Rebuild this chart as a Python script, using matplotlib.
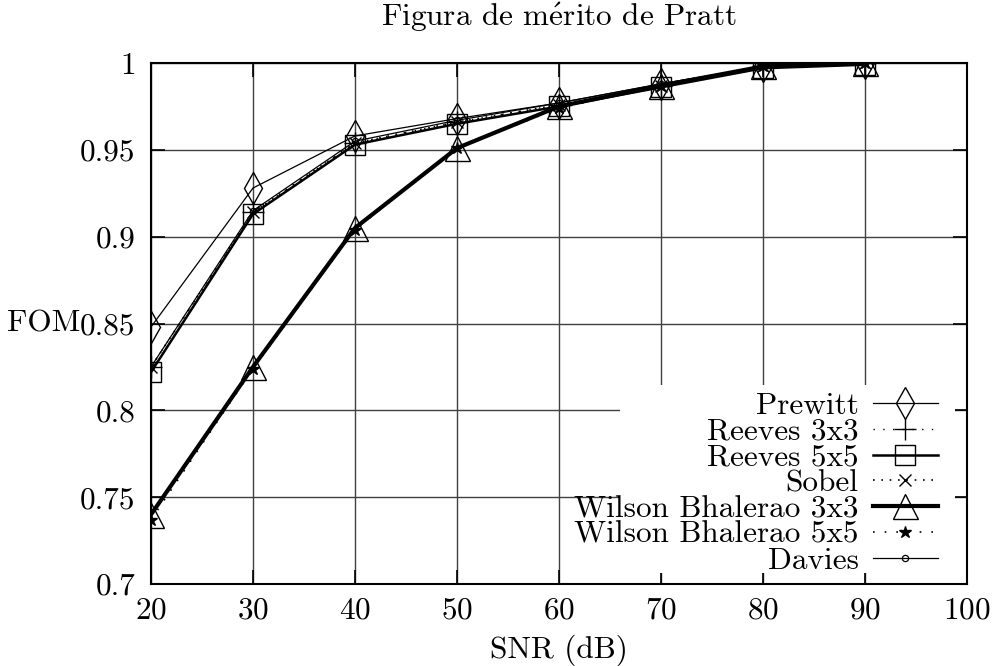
import matplotlib
matplotlib.use("Agg")
import matplotlib.pyplot as plt
from matplotlib.patches import Rectangle

# --- datos ---
snr = [20, 30, 40, 50, 60, 70, 80, 90]
prewitt = [0.848, 0.928, 0.958, 0.968, 0.977, 0.988, 0.998, 1.000]
reeves3 = [0.825, 0.914, 0.954, 0.966, 0.976, 0.987, 0.998, 1.000]
reeves5 = [0.822, 0.913, 0.953, 0.965, 0.975, 0.986, 0.997, 0.999]
sobel = [0.825, 0.914, 0.954, 0.966, 0.976, 0.987, 0.998, 1.000]
wilson3 = [0.740, 0.825, 0.905, 0.951, 0.975, 0.987, 0.998, 1.000]
wilson5 = [0.737, 0.824, 0.904, 0.951, 0.974, 0.987, 0.998, 1.000]
davies = [0.825, 0.915, 0.955, 0.967, 0.977, 0.988, 0.998, 1.000]

xticks = [20, 30, 40, 50, 60, 70, 80, 90, 100]
yticks = [0.7, 0.75, 0.8, 0.85, 0.9, 0.95, 1.0]
ytick_labels = ["0.7", "0.75", "0.8", "0.85", "0.9", "0.95", "1"]

plt.rcParams['font.family'] = ['cmr10', 'DejaVu Serif']
plt.rcParams['mathtext.fontset'] = 'cm'
plt.rcParams['axes.formatter.use_mathtext'] = True
FS = 22.5

fig = plt.figure(figsize=(9.98, 6.66), dpi=100)
ax = fig.add_axes([0.1513, 0.1231, 0.8176, 0.7823])

ax.plot(snr, prewitt, color='black', lw=0.9, marker='d', ms=16,
        mfc='none', mec='black', mew=1.0, label='Prewitt')
ax.plot(snr, reeves3, color='black', lw=1.0, ls=(0, (1, 6)), marker='+', ms=16,
        mew=1.0, label='Reeves 3x3')
ax.plot(snr, reeves5, color='black', lw=1.8, marker='s', ms=15,
        mfc='none', mec='black', mew=1.0, label='Reeves 5x5')
ax.plot(snr, sobel, color='black', lw=1.2, ls=(0, (1, 4)), marker='x', ms=9,
        mew=1.0, label='Sobel')
ax.plot(snr, wilson3, color='black', lw=3.0, marker='^', ms=18,
        mfc='none', mec='black', mew=1.0, label='Wilson Bhalerao 3x3')
ax.plot(snr, wilson5, color='black', lw=1.2, ls=(0, (1, 6)), marker='*', ms=9,
        mfc='black', mec='black', label='Wilson Bhalerao 5x5')
ax.plot(snr, davies, color='black', lw=0.9, marker='o', ms=4.5,
        mfc='none', mec='black', mew=0.9, label='Davies')

ax.set_xlim(20, 100)
ax.set_ylim(0.7, 1.0)
ax.set_xticks(xticks)
ax.set_yticks(yticks)
ax.set_yticklabels(ytick_labels)

ax.grid(True, color='0.25', lw=1.0, zorder=0.5)
ax.set_axisbelow(True)
ax.tick_params(direction='in', length=10, width=1.2, top=True, right=True,
               labelsize=FS, pad=11)
ax.tick_params(axis='x', pad=9)
for sp in ax.spines.values():
    sp.set_linewidth(1.5)

# fondo blanco de la leyenda, tapa la rejilla
ax.add_patch(Rectangle((0.575, 0.021), 0.4105, 0.361, transform=ax.transAxes,
                       facecolor='white', edgecolor='none', zorder=1))

ax.set_title(r'Figura de m$\mathrm{\acute{e}}$rito de Pratt', fontsize=FS, pad=27)
ax.set_xlabel('SNR (dB)', fontsize=FS, labelpad=7)
ax.set_ylabel('FOM', fontsize=FS, rotation=0, ha='right', va='center')
ax.yaxis.set_label_coords(-0.087, 0.5)

leg = ax.legend(loc='lower right', bbox_to_anchor=(0.9755, 0.0),
                markerfirst=False, frameon=False,
                fontsize=FS, handlelength=2.08, handletextpad=0.45,
                labelspacing=-0.07, borderpad=0.3, borderaxespad=0)
for t in leg.get_texts():
    t.set_ha('right')
leg._legend_box.align = 'right'
leg.set_zorder(10)

fig.savefig('out.png', dpi=100)
